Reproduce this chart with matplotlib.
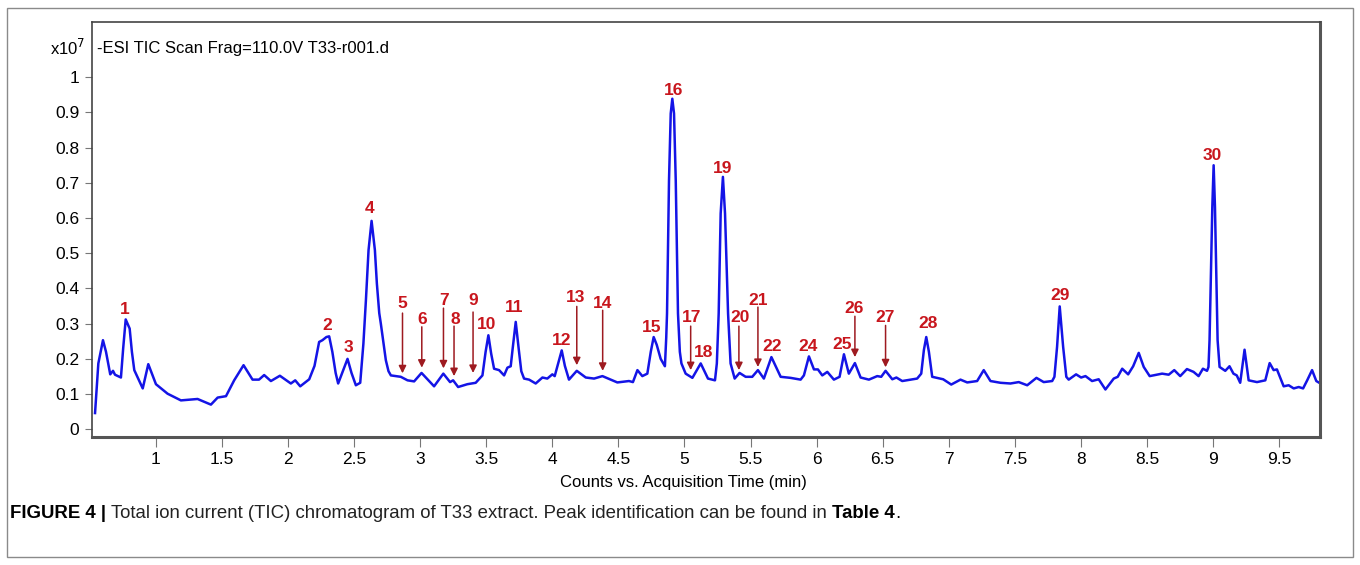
import numpy as np
import matplotlib
matplotlib.use("Agg")
import matplotlib.pyplot as plt
from matplotlib.patches import Rectangle

plt.rcParams['font.family'] = ['Liberation Sans', 'DejaVu Sans']

# ---- TIC trace (time in min, counts in 1e7) ----
time_min = [
    0.539, 0.564, 0.599, 0.622, 0.654, 0.675, 0.690, 0.735, 0.752, 0.771, 0.785, 0.801, 0.818, 0.836,
    0.900, 0.942, 1.000, 1.088, 1.189, 1.315, 1.416, 1.467, 1.530, 1.592, 1.663, 1.731, 1.780,
    1.819, 1.870, 1.938, 2.021, 2.054, 2.092, 2.160, 2.200, 2.235, 2.260, 2.290, 2.311, 2.335,
    2.360, 2.379, 2.420, 2.450, 2.480, 2.513, 2.546, 2.570, 2.589, 2.609, 2.632, 2.657, 2.672,
    2.690, 2.702, 2.720, 2.740, 2.760, 2.778, 2.853, 2.904, 2.954, 3.010, 3.105, 3.175, 3.226,
    3.249, 3.287, 3.357, 3.420, 3.471, 3.495, 3.516, 3.537, 3.559, 3.597, 3.635, 3.660, 3.685,
    3.700, 3.723, 3.745, 3.765, 3.786, 3.824, 3.874, 3.925, 3.962, 4.000, 4.018, 4.050, 4.071,
    4.095, 4.126, 4.185, 4.253, 4.316, 4.379, 4.492, 4.580, 4.610, 4.644, 4.681, 4.719, 4.745,
    4.767, 4.790, 4.820, 4.852, 4.862, 4.868, 4.883, 4.896, 4.908, 4.921, 4.934, 4.951, 4.965,
    4.977, 5.009, 5.060, 5.123, 5.178, 5.231, 5.245, 5.259, 5.274, 5.291, 5.307, 5.330, 5.349,
    5.380, 5.417, 5.463, 5.513, 5.556, 5.601, 5.658, 5.728, 5.803, 5.879, 5.904, 5.942, 5.980,
    6.010, 6.043, 6.081, 6.131, 6.174, 6.207, 6.244, 6.290, 6.333, 6.396, 6.459, 6.489, 6.522,
    6.573, 6.604, 6.648, 6.761, 6.792, 6.812, 6.830, 6.850, 6.875, 6.958, 7.019, 7.089, 7.140,
    7.215, 7.265, 7.316, 7.392, 7.467, 7.530, 7.594, 7.664, 7.719, 7.783, 7.800, 7.820, 7.840,
    7.866, 7.890, 7.908, 7.964, 8.002, 8.035, 8.085, 8.135, 8.186, 8.249, 8.279, 8.313, 8.358,
    8.396, 8.438, 8.476, 8.521, 8.615, 8.665, 8.707, 8.752, 8.803, 8.853, 8.891, 8.924, 8.955,
    8.966, 8.974, 8.995, 9.005, 9.015, 9.035, 9.050, 9.093, 9.125, 9.155, 9.180, 9.206, 9.239,
    9.270, 9.333, 9.396, 9.429, 9.459, 9.484, 9.535, 9.573, 9.611, 9.649, 9.682, 9.713, 9.750,
    9.782, 9.800,
]
counts = [
    0.046, 0.187, 0.253, 0.220, 0.156, 0.166, 0.155, 0.147, 0.230, 0.312, 0.300, 0.286, 0.220, 0.168,
    0.116, 0.185, 0.128, 0.101, 0.082, 0.086, 0.070, 0.090, 0.094, 0.139, 0.182, 0.141, 0.141,
    0.154, 0.137, 0.152, 0.130, 0.139, 0.122, 0.142, 0.180, 0.248, 0.253, 0.262, 0.264, 0.220,
    0.160, 0.130, 0.170, 0.200, 0.160, 0.125, 0.132, 0.243, 0.366, 0.509, 0.592, 0.509, 0.414,
    0.330, 0.300, 0.250, 0.196, 0.165, 0.153, 0.149, 0.139, 0.136, 0.160, 0.122, 0.158, 0.134,
    0.139, 0.120, 0.128, 0.132, 0.153, 0.220, 0.267, 0.215, 0.172, 0.168, 0.153, 0.175, 0.179,
    0.230, 0.305, 0.230, 0.165, 0.144, 0.141, 0.130, 0.147, 0.144, 0.156, 0.151, 0.195, 0.224,
    0.180, 0.141, 0.166, 0.147, 0.144, 0.151, 0.133, 0.137, 0.134, 0.168, 0.151, 0.158, 0.220,
    0.262, 0.240, 0.200, 0.179, 0.260, 0.329, 0.707, 0.897, 0.939, 0.897, 0.707, 0.329, 0.220,
    0.187, 0.158, 0.146, 0.187, 0.144, 0.139, 0.187, 0.329, 0.613, 0.717, 0.613, 0.329, 0.187,
    0.144, 0.160, 0.149, 0.149, 0.168, 0.144, 0.205, 0.149, 0.146, 0.141, 0.153, 0.207, 0.170,
    0.170, 0.153, 0.163, 0.141, 0.149, 0.213, 0.158, 0.188, 0.147, 0.141, 0.151, 0.149, 0.166,
    0.142, 0.147, 0.137, 0.144, 0.158, 0.225, 0.262, 0.220, 0.149, 0.142, 0.127, 0.141, 0.133,
    0.137, 0.168, 0.137, 0.132, 0.130, 0.134, 0.125, 0.146, 0.134, 0.137, 0.149, 0.234, 0.349,
    0.234, 0.149, 0.141, 0.156, 0.147, 0.151, 0.137, 0.142, 0.113, 0.144, 0.149, 0.172, 0.156,
    0.179, 0.217, 0.177, 0.151, 0.158, 0.155, 0.168, 0.151, 0.171, 0.163, 0.151, 0.172, 0.166,
    0.177, 0.253, 0.632, 0.750, 0.632, 0.253, 0.177, 0.166, 0.179, 0.158, 0.153, 0.132, 0.226,
    0.139, 0.134, 0.139, 0.188, 0.168, 0.170, 0.122, 0.125, 0.116, 0.120, 0.116, 0.139, 0.168,
    0.137, 0.133,
]

# ---- peak numbers (label x, label y) ----
peak_ids = [1, 2, 3, 4, 5, 6, 7, 8, 9, 10, 11, 12, 13, 14, 15, 16, 17, 18, 19, 20,
            21, 22, 24, 25, 26, 27, 28, 29, 30]
label_x = [0.766, 2.294, 2.460, 2.619, 2.861, 3.012, 3.179, 3.262, 3.398, 3.504, 3.708,
           4.071, 4.177, 4.381, 4.752, 4.918, 5.054, 5.145, 5.289, 5.418, 5.554, 5.667,
           5.939, 6.197, 6.287, 6.522, 6.840, 7.846, 8.996]
label_y = [0.341, 0.295, 0.233, 0.628, 0.358, 0.313, 0.366, 0.313, 0.366, 0.298, 0.347,
           0.253, 0.375, 0.358, 0.290, 0.963, 0.318, 0.219, 0.741, 0.318, 0.366, 0.236,
           0.236, 0.241, 0.344, 0.318, 0.301, 0.381, 0.778]

# ---- arrows for minor peaks: x, start (top) and tip ----
arrow_x = [2.866, 3.012, 3.176, 3.256, 3.400, 4.185, 4.381, 5.047, 5.412, 5.556, 6.290, 6.522]
arrow_top = [0.330, 0.291, 0.344, 0.293, 0.333, 0.349, 0.338, 0.293, 0.293, 0.347, 0.321, 0.295]
arrow_tip = [0.159, 0.175, 0.173, 0.151, 0.160, 0.182, 0.166, 0.168, 0.168, 0.177, 0.205, 0.176]

xticks = [1, 1.5, 2, 2.5, 3, 3.5, 4, 4.5, 5, 5.5, 6, 6.5, 7, 7.5, 8, 8.5, 9, 9.5]
yticks = [0, 0.1, 0.2, 0.3, 0.4, 0.5, 0.6, 0.7, 0.8, 0.9, 1]

W, H = 1360, 565
fig = plt.figure(figsize=(W / 100, H / 100), dpi=100)
ax = fig.add_axes([92 / W, 1 - 437 / H, (1320 - 92) / W, (437 - 22) / H])

# outer frame round the whole figure
fig.patches.append(Rectangle((7 / W, 8 / H), (1353 - 7) / W, (557 - 8) / H,
                             transform=fig.transFigure, fill=False, ec='#8a8a8a', lw=1.0))

ax.plot(time_min, counts, color='#1414e6', lw=1.8, solid_joinstyle='round')

red = '#c8161d'
for pid, lx, ly in zip(peak_ids, label_x, label_y):
    ax.text(lx, ly, str(pid), color=red, fontsize=12.5, fontweight='bold',
            ha='center', va='center')

for axx, top, tip in zip(arrow_x, arrow_top, arrow_tip):
    ax.annotate('', xy=(axx, tip), xytext=(axx, top),
                arrowprops=dict(arrowstyle='-|>', color='#9e1a20', lw=1.1,
                                mutation_scale=11, shrinkA=0, shrinkB=0))

ax.set_xlim(0.516, 9.81)
ax.set_ylim(-0.022, 1.157)
ax.set_xticks(xticks)
ax.set_xticklabels([f'{v:g}' for v in xticks])
ax.set_yticks(yticks)
ax.set_yticklabels([f'{v:g}' for v in yticks])
ax.tick_params(axis='both', direction='out', colors='#777777', labelcolor='#000000',
               labelsize=12.5, width=0.8)
ax.tick_params(axis='y', length=5, pad=4)
ax.tick_params(axis='x', length=7, pad=4)

for side in ['left', 'top']:
    ax.spines[side].set_color('#444444')
    ax.spines[side].set_linewidth(1.2)
for side in ['right', 'bottom']:
    ax.spines[side].set_color('#555555')
    ax.spines[side].set_linewidth(2.2)

fig.text(683 / W, 1 - 482 / H, 'Counts vs. Acquisition Time (min)', fontsize=12,
         ha='center', va='center')
ax.text(0.004, 0.955, '-ESI TIC Scan Frag=110.0V T33-r001.d', transform=ax.transAxes,
        fontsize=12, ha='left', va='top')
fig.text(50 / W, 1 - 48 / H, r'x10$^{7}$', fontsize=12, ha='left', va='center')

# caption, mixed bold / regular pieces
cap1 = fig.text(10 / W, 1 - 518 / H, 'FIGURE 4 | ', fontsize=13.4, fontweight='bold',
                ha='left', va='baseline')
cap2 = ax.annotate('Total ion current (TIC) chromatogram of T33 extract. Peak identification can be found in ',
                   xy=(1, 0), xycoords=cap1, fontsize=13.4, ha='left', va='bottom',
                   color='#222222', annotation_clip=False)
cap3 = ax.annotate('Table 4', xy=(1, 0), xycoords=cap2, fontsize=13.4, fontweight='bold',
                   ha='left', va='bottom', annotation_clip=False)
ax.annotate('.', xy=(1, 0), xycoords=cap3, fontsize=13.4, ha='left', va='bottom',
            annotation_clip=False)

fig.savefig('out.png', dpi=100)
